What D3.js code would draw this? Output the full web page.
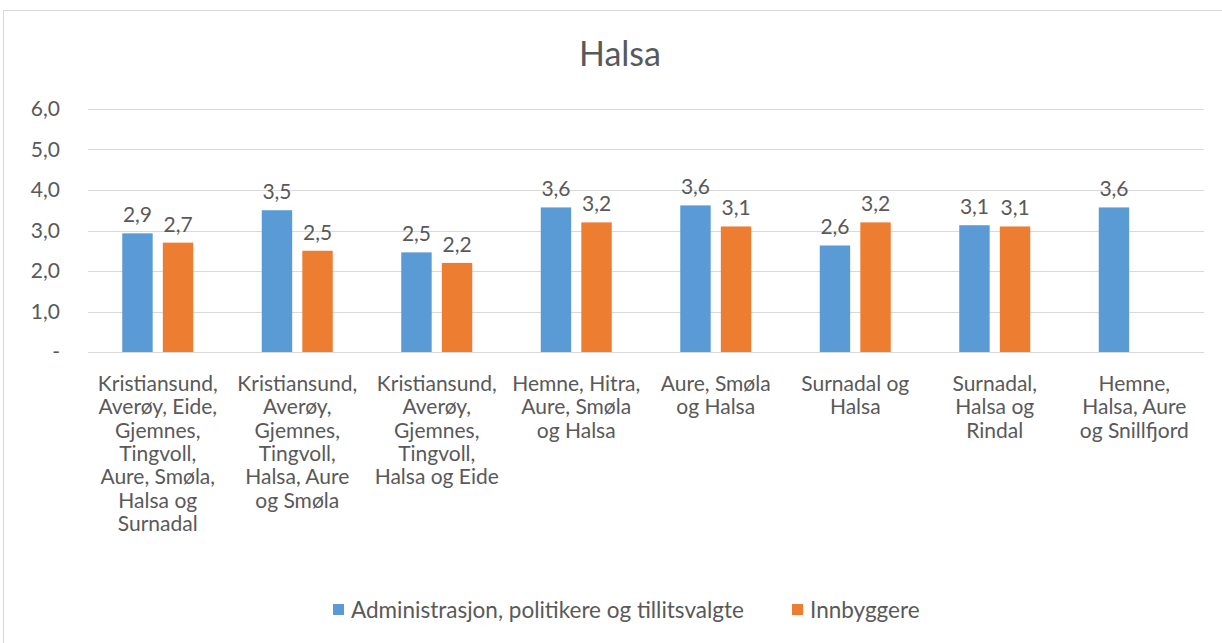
<!DOCTYPE html>
<meta charset="UTF-8">
<style>
    body { margin: 0; background: #fff; }
    svg text { font-family: "Lato", "Open Sans", sans-serif; fill: #595959; }
    .grid line { stroke: #d9d9d9; stroke-width: 1px; }
</style>
<body>
<div id="chart"></div>
<script src="https://d3js.org/d3.v7.min.js"></script>
<script>

    // data
    var categories = [
        ["Kristiansund,", "Averøy, Eide,", "Gjemnes,", "Tingvoll,", "Aure, Smøla,", "Halsa og", "Surnadal"],
        ["Kristiansund,", "Averøy,", "Gjemnes,", "Tingvoll,", "Halsa, Aure", "og Smøla"],
        ["Kristiansund,", "Averøy,", "Gjemnes,", "Tingvoll,", "Halsa og Eide"],
        ["Hemne, Hitra,", "Aure, Smøla", "og Halsa"],
        ["Aure, Smøla", "og Halsa"],
        ["Surnadal og", "Halsa"],
        ["Surnadal,", "Halsa og", "Rindal"],
        ["Hemne,", "Halsa, Aure", "og Snillfjord"]
    ];
    var seriesNames = ["Administrasjon, politikere og tillitsvalgte", "Innbyggere"];
    var adminValues = [2.93, 3.5, 2.46, 3.57, 3.62, 2.63, 3.13, 3.57];
    var innbyggerValues = [2.7, 2.5, 2.2, 3.2, 3.1, 3.2, 3.1, null];
    var yTicks = [0, 1, 2, 3, 4, 5, 6];
    var colors = ["#5b9bd5", "#ed7d31"];

    var W = 1222, H = 643;
    var margin = {top: 109, left: 88, right: 18, bottom: 291};
    var width = W - margin.left - margin.right,
        height = H - margin.top - margin.bottom;

    var svg = d3.select("#chart").append("svg")
        .attr("width", W)
        .attr("height", H);

    // outer chart border
    svg.append("rect")
        .attr("x", 3.5).attr("y", 10.5)
        .attr("width", W + 10).attr("height", H + 10)
        .attr("fill", "none")
        .attr("stroke", "#d9d9d9");

    svg.append("text")
        .attr("x", 620).attr("y", 66)
        .attr("text-anchor", "middle")
        .style("font-size", "34px")
        .text("Halsa");

    var g = svg.append("g")
        .attr("transform", "translate(" + margin.left + "," + margin.top + ")");

    var x = d3.scaleBand()
        .domain(d3.range(categories.length))
        .range([0, width]);

    var inner = d3.scaleBand()
        .domain([0, 1])
        .range([x.bandwidth() / 2 - 35.5, x.bandwidth() / 2 + 35.5])
        .paddingInner(0.25);

    var y = d3.scaleLinear().domain([0, 6]).range([height, 0]);

    // gridlines
    g.append("g").attr("class", "grid")
        .selectAll("line").data(yTicks).enter().append("line")
        .attr("x1", 0).attr("x2", width)
        .attr("y1", function(d) { return Math.round(y(d)) + 0.5; })
        .attr("y2", function(d) { return Math.round(y(d)) + 0.5; });

    // y axis labels
    g.append("g").selectAll("text").data(yTicks).enter().append("text")
        .attr("x", -28)
        .attr("y", function(d) { return y(d); })
        .attr("dy", "0.35em")
        .attr("text-anchor", "end")
        .style("font-size", "21px")
        .text(function(d) { return d === 0 ? "-" : d3.format(".1f")(d).replace(".", ","); });

    var rows = [];
    categories.forEach(function(c, i) {
        rows.push({i: i, s: 0, v: adminValues[i]});
        if (innbyggerValues[i] != null) rows.push({i: i, s: 1, v: innbyggerValues[i]});
    });

    g.selectAll("rect.bar").data(rows).enter().append("rect")
        .attr("class", "bar")
        .attr("x", function(d) { return x(d.i) + inner(d.s); })
        .attr("width", inner.bandwidth())
        .attr("y", function(d) { return y(d.v); })
        .attr("height", function(d) { return height - y(d.v); })
        .attr("fill", function(d) { return colors[d.s]; });

    g.selectAll("text.val").data(rows).enter().append("text")
        .attr("class", "val")
        .attr("x", function(d) { return x(d.i) + inner(d.s) + inner.bandwidth() / 2; })
        .attr("y", function(d) { return y(d.v) - 11; })
        .attr("text-anchor", "middle")
        .style("font-size", "21px")
        .text(function(d) { return d3.format(".1f")(d.v).replace(".", ","); });

    // category labels
    var cat = g.selectAll("text.cat").data(categories).enter().append("text")
        .attr("class", "cat")
        .attr("text-anchor", "middle")
        .style("font-size", "21px")
        .attr("transform", function(d, i) { return "translate(" + (x(i) + x.bandwidth() / 2) + "," + (height + 39) + ")"; });
    cat.selectAll("tspan").data(function(d) { return d; }).enter().append("tspan")
        .attr("x", 0)
        .attr("y", function(d, j) { return j * 23.3; })
        .text(function(d) { return d; });

    // legend
    var legendX = [333, 792];
    var legend = svg.selectAll("g.legend").data(seriesNames).enter().append("g")
        .attr("transform", function(d, i) { return "translate(" + legendX[i] + ",604)"; });
    legend.append("rect")
        .attr("width", 11).attr("height", 11)
        .attr("fill", function(d, i) { return colors[i]; });
    legend.append("text")
        .attr("x", 18).attr("y", 6)
        .attr("dy", "0.35em")
        .style("font-size", "22.5px")
        .text(function(d) { return d; });

</script>
</body>
